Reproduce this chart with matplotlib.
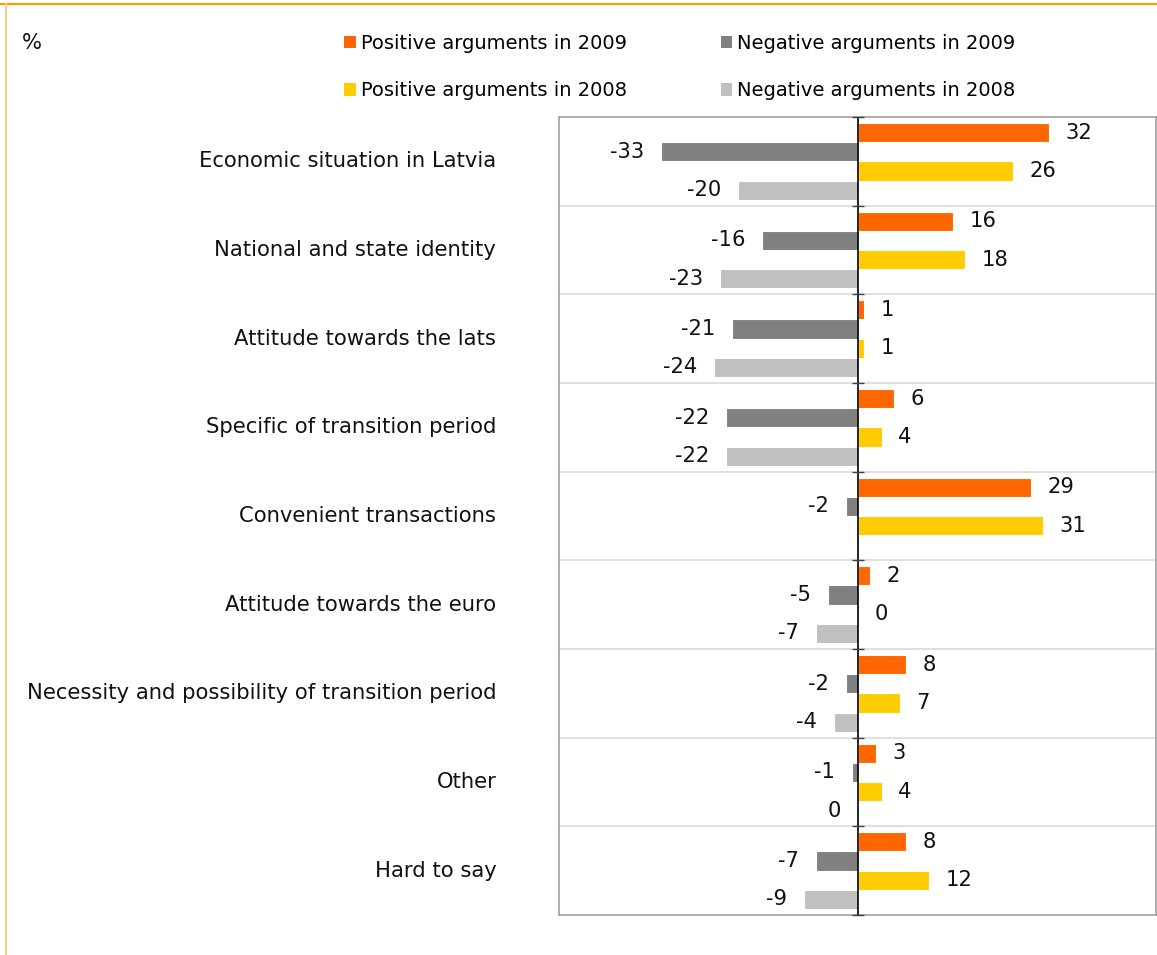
import numpy as np
import matplotlib.pyplot as plt
from matplotlib.patches import Patch
from matplotlib.lines import Line2D

# data
categories = ["Economic situation in Latvia", "National and state identity",
              "Attitude towards the lats", "Specific of transition period",
              "Convenient transactions", "Attitude towards the euro",
              "Necessity and possibility of transition period", "Other", "Hard to say"]
pos_2009 = [32, 16, 1, 6, 29, 2, 8, 3, 8]
neg_2009 = [-33, -16, -21, -22, -2, -5, -2, -1, -7]
pos_2008 = [26, 18, 1, 4, 31, 0, 7, 4, 12]
neg_2008 = [-20, -23, -24, -22, np.nan, -7, -4, 0, -9]

labels = ["Positive arguments in 2009", "Negative arguments in 2009",
          "Positive arguments in 2008", "Negative arguments in 2008"]
colors = ["#FF6600", "#808080", "#FFCC00", "#C0C0C0"]

plt.rcParams['font.family'] = ['DejaVu Sans']
fs = 15.2

fig = plt.figure(figsize=(11.57, 9.55), dpi=100)
ax = fig.add_axes([559/1157, 1-915/955, 1-559/1157 - 0.0005, (915-117)/955])

y = np.arange(len(categories))
slot = 0.2165
offsets = [-1.5*slot, -0.5*slot, 0.5*slot, 1.5*slot]
series = [pos_2009, neg_2009, pos_2008, neg_2008]

for vals, off, col in zip(series, offsets, colors):
    vals = np.array(vals, dtype=float)
    ax.barh(y + off, vals, height=slot, color=col, edgecolor='white', linewidth=0.8, zorder=3)
    for yi, v in zip(y + off, vals):
        if np.isnan(v):
            continue
        neg = v < 0 or (v == 0 and col == "#C0C0C0")
        ax.annotate(f"{int(v)}", (v, yi), xytext=(-12 if neg else 12, 0),
                    textcoords='offset points', ha='right' if neg else 'left',
                    va='center', fontsize=fs, color='#111111')

ax.set_xlim(-50, 50)
ax.set_ylim(len(categories) - 0.5, -0.5)

# category separators
for b in np.arange(0.5, len(categories) - 0.5, 1):
    ax.axhline(b, color='#D9D9D9', linewidth=1.2, zorder=1)

ax.axvline(0, color='black', linewidth=1.2, zorder=4)
bounds = np.arange(-0.5, len(categories), 1)
ax.plot(np.zeros_like(bounds), bounds, linestyle='none', marker='_', markersize=8,
        color='#404040', markeredgewidth=1.0, zorder=5, clip_on=False)

ax.set_xticks([])
ax.set_yticks([])
for s in ax.spines.values():
    s.set_color('#A0A0A0')
    s.set_linewidth(1.2)

for yi, cat in zip(y, categories):
    ax.text(-60.5, yi, cat, ha='right', va='center', fontsize=fs, color='#111111')

fig.text(22/1157, 1-43/955, "%", fontsize=fs, va='center', ha='left', color='#111111')

handles = [Patch(facecolor=c, edgecolor='none') for c in colors]
order = [0, 2, 1, 3]
fig.legend([handles[i] for i in order], [labels[i] for i in order], ncol=2,
           loc='upper left', bbox_to_anchor=(344/1157, 1-34/955), frameon=False,
           fontsize=14, handlelength=0.6, handleheight=0.6, handletextpad=0.25,
           labelspacing=1.45, columnspacing=4.85, borderaxespad=0, borderpad=0)

# frame lines of the source page
fig.add_artist(Line2D([0, 1], [1-4/955, 1-4/955], transform=fig.transFigure,
                      color='#FF9900', linewidth=1.5))
fig.add_artist(Line2D([6/1157, 6/1157], [0, 1-4/955], transform=fig.transFigure,
                      color='#FFCC80', linewidth=1.5))

fig.savefig("out.png", dpi=100)
